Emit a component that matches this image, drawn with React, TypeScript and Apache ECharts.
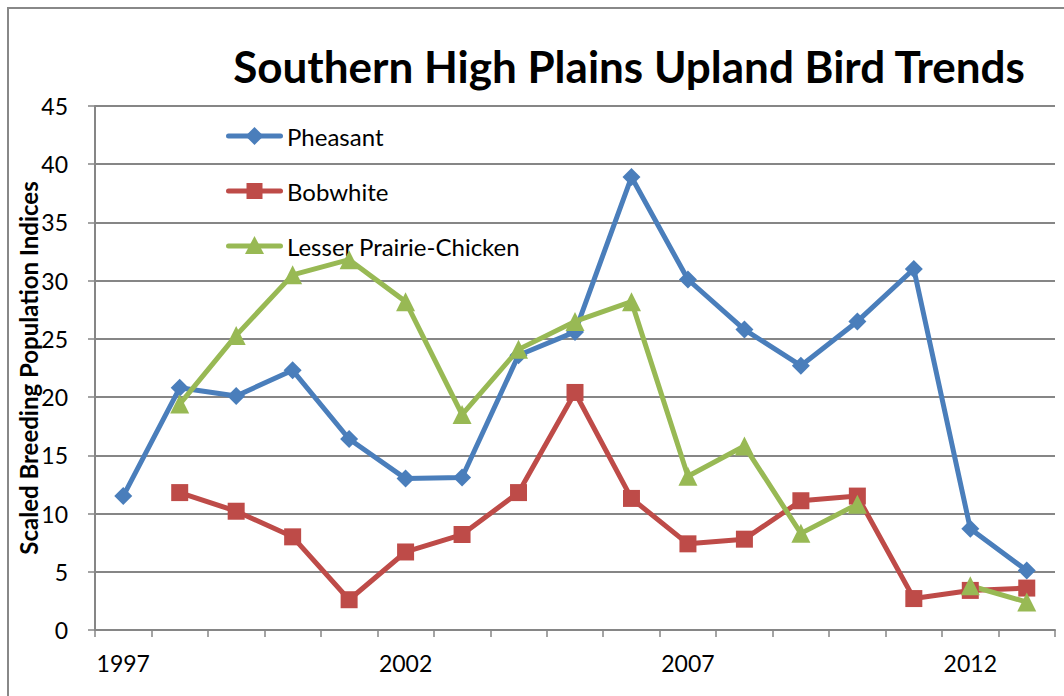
import React, { useEffect, useRef } from "react";
import * as echarts from "echarts";

const years = ["1997","1998","1999","2000","2001","2002","2003","2004","2005","2006","2007","2008","2009","2010","2011","2012","2013"];
const pheasant = [11.5, 20.8, 20.1, 22.3, 16.4, 13.0, 13.1, 23.6, 25.6, 38.9, 30.1, 25.8, 22.7, 26.5, 31.0, 8.7, 5.1];
const bobwhite = [null, 11.8, 10.2, 8.0, 2.6, 6.7, 8.2, 11.8, 20.4, 11.3, 7.4, 7.8, 11.1, 11.5, 2.7, 3.4, 3.6];
const prairieChicken = [null, 19.4, 25.3, 30.5, 31.8, 28.2, 18.5, 24.1, 26.5, 28.2, 13.2, 15.8, 8.3, 10.8, null, 3.8, 2.4];

const seriesNames = ["Pheasant", "Bobwhite", "Lesser Prairie-Chicken"];
const seriesColors = ["#4A7EBB", "#BE4B48", "#98B954"];

const titleText = "Southern High Plains Upland Bird Trends";
const yAxisName = "Scaled Breeding Population Indices";

const FONT = "Lato, 'Liberation Sans', sans-serif";

function legendItem(i: number, cy: number) {
  const color = seriesColors[i];
  const x0 = 226, x1 = 283, cx = (x0 + x1) / 2;
  let marker: any;
  if (i === 0) {
    marker = { type: "polygon", shape: { points: [[cx, cy - 9], [cx + 9, cy], [cx, cy + 9], [cx - 9, cy]] }, style: { fill: color } };
  } else if (i === 1) {
    marker = { type: "rect", shape: { x: cx - 8, y: cy - 8, width: 16, height: 16 }, style: { fill: color } };
  } else {
    marker = { type: "polygon", shape: { points: [[cx, cy - 10], [cx + 9.5, cy + 8], [cx - 9.5, cy + 8]] }, style: { fill: color } };
  }
  return {
    type: "group",
    silent: true,
    children: [
      { type: "rect", shape: { x: x0, y: cy - 2.5, width: x1 - x0, height: 5, r: 2.5 }, style: { fill: color } },
      marker,
      {
        type: "text",
        x: 287,
        y: cy,
        style: { text: seriesNames[i], font: `24px ${FONT}`, fill: "#000", verticalAlign: "middle", align: "left" },
      },
    ],
  };
}

export default function App() {
  const ref = useRef<HTMLDivElement>(null);
  useEffect(() => {
    if (!ref.current) return;
    const chart = echarts.init(ref.current, null, { renderer: "svg" });
    const mkSeries = (i: number, data: any[], symbol: string, size: number) => ({
      name: seriesNames[i],
      type: "line",
      data,
      connectNulls: false,
      symbol,
      symbolSize: size,
      lineStyle: { width: 5, color: seriesColors[i] },
      itemStyle: { color: seriesColors[i] },
      emphasis: { disabled: true },
    });
    chart.setOption({
      animation: false,
      backgroundColor: "#ffffff",
      textStyle: { fontFamily: FONT },
      title: {
        text: titleText,
        left: 624,
        top: 39,
        textAlign: "center",
        textStyle: { fontFamily: FONT, fontWeight: "bold", fontSize: 44, color: "#000" },
      },
      graphic: [
        {
          type: "rect",
          shape: { x: 8, y: 8, width: 1200, height: 800 },
          style: { fill: "none", stroke: "#888888", lineWidth: 2 },
          silent: true,
        },
        legendItem(0, 136),
        legendItem(1, 191),
        legendItem(2, 246),
      ],
      grid: { left: 95, right: 9, top: 106, bottom: 66, containLabel: false },
      xAxis: {
        type: "category",
        data: years,
        boundaryGap: true,
        axisLine: { lineStyle: { color: "#868686", width: 2 } },
        axisTick: { show: true, interval: 0, length: 7, lineStyle: { color: "#868686", width: 1.5 } },
        axisLabel: { interval: 4, margin: 21, fontSize: 23, color: "#000", fontFamily: FONT },
        splitLine: { show: false },
      },
      yAxis: {
        type: "value",
        min: 0,
        max: 45,
        interval: 5,
        name: yAxisName,
        nameLocation: "middle",
        nameGap: 55,
        nameMoveOverlap: false,
        nameTextStyle: { fontFamily: FONT, fontWeight: "bold", fontSize: 24, color: "#000" },
        axisLine: { show: true, lineStyle: { color: "#868686", width: 2 } },
        axisTick: { show: true, length: 7, lineStyle: { color: "#868686", width: 1.5 } },
        axisLabel: { margin: 27, fontSize: 23, color: "#000", fontFamily: FONT },
        splitLine: { show: true, lineStyle: { color: "#868686", width: 2 } },
      },
      series: [
        mkSeries(0, pheasant, "diamond", 18),
        mkSeries(1, bobwhite, "rect", 17),
        mkSeries(2, prairieChicken, "triangle", 19),
      ],
    });
    return () => chart.dispose();
  }, []);
  return (
    <div
      ref={ref}
      style={{ position: "absolute", left: 0, top: 0, width: 1064, height: 696 }}
    />
  );
}
